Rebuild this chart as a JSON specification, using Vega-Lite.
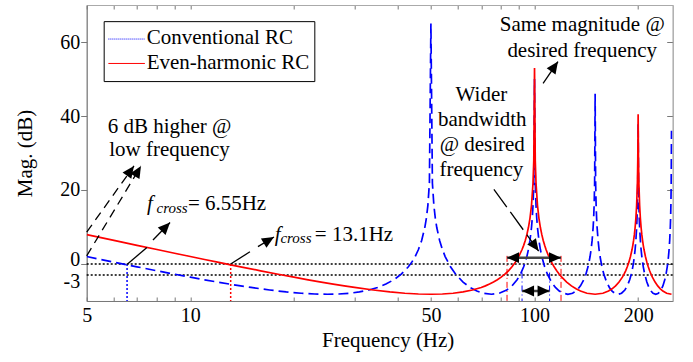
{
  "$schema": "https://vega.github.io/schema/vega-lite/v6.json",
  "width": 586,
  "height": 296,
  "autosize": {"type": "none"},
  "padding": {"left": 86.7, "top": 5, "right": 20, "bottom": 61},
  "background": "white",
  "config": {
    "font": "Liberation Serif",
    "view": {"stroke": "#aaaaaa"},
    "axis": {"domainColor": "#777777", "tickColor": "#777777", "labelColor": "black", "titleColor": "black", "labelFont": "Liberation Serif", "titleFont": "Liberation Serif", "labelFontSize": 20, "titleFontSize": 21, "titleFontWeight": "normal", "grid": false}
  },
  "datasets": {
    "curves": [
      {"s":"Conventional RC","f":5,"m":2.02},{"s":"Conventional RC","f":5.5,"m":1.22},{"s":"Conventional RC","f":6,"m":0.5},{"s":"Conventional RC","f":6.55,"m":-0.22},{"s":"Conventional RC","f":7,"m":-0.76},{"s":"Conventional RC","f":8,"m":-1.84},{"s":"Conventional RC","f":9,"m":-2.76},{"s":"Conventional RC","f":10,"m":-3.56},{"s":"Conventional RC","f":11,"m":-4.27},{"s":"Conventional RC","f":12,"m":-4.89},{"s":"Conventional RC","f":13,"m":-5.43},{"s":"Conventional RC","f":14,"m":-5.92},{"s":"Conventional RC","f":15,"m":-6.34},{"s":"Conventional RC","f":17,"m":-7.03},{"s":"Conventional RC","f":19,"m":-7.55},{"s":"Conventional RC","f":21,"m":-7.9},{"s":"Conventional RC","f":23,"m":-8.11},{"s":"Conventional RC","f":25,"m":-8.18},{"s":"Conventional RC","f":27,"m":-8.11},{"s":"Conventional RC","f":29,"m":-7.9},{"s":"Conventional RC","f":31,"m":-7.55},{"s":"Conventional RC","f":33,"m":-7.03},{"s":"Conventional RC","f":35,"m":-6.34},{"s":"Conventional RC","f":37,"m":-5.43},{"s":"Conventional RC","f":39,"m":-4.27},{"s":"Conventional RC","f":41,"m":-2.76},{"s":"Conventional RC","f":43,"m":-0.76},{"s":"Conventional RC","f":44,"m":0.5},{"s":"Conventional RC","f":45,"m":2.02},{"s":"Conventional RC","f":46,"m":3.91},{"s":"Conventional RC","f":47,"m":6.37},{"s":"Conventional RC","f":48,"m":9.86},{"s":"Conventional RC","f":48.5,"m":12.35},{"s":"Conventional RC","f":49,"m":15.86},{"s":"Conventional RC","f":49.5,"m":21.88},{"s":"Conventional RC","f":50,"m":65},{"s":"Conventional RC","f":50.5,"m":21.88},{"s":"Conventional RC","f":51,"m":15.86},{"s":"Conventional RC","f":51.5,"m":12.35},{"s":"Conventional RC","f":52,"m":9.86},{"s":"Conventional RC","f":53,"m":6.37},{"s":"Conventional RC","f":54,"m":3.91},{"s":"Conventional RC","f":55,"m":2.02},{"s":"Conventional RC","f":57,"m":-0.76},{"s":"Conventional RC","f":59,"m":-2.76},{"s":"Conventional RC","f":62,"m":-4.89},{"s":"Conventional RC","f":65,"m":-6.34},{"s":"Conventional RC","f":68,"m":-7.31},{"s":"Conventional RC","f":71,"m":-7.9},{"s":"Conventional RC","f":75,"m":-8.18},{"s":"Conventional RC","f":79,"m":-7.9},{"s":"Conventional RC","f":83,"m":-7.03},{"s":"Conventional RC","f":86,"m":-5.92},{"s":"Conventional RC","f":89,"m":-4.27},{"s":"Conventional RC","f":91,"m":-2.76},{"s":"Conventional RC","f":93,"m":-0.76},{"s":"Conventional RC","f":94,"m":0.5},{"s":"Conventional RC","f":95,"m":2.02},{"s":"Conventional RC","f":96,"m":3.91},{"s":"Conventional RC","f":97,"m":6.37},{"s":"Conventional RC","f":98,"m":9.86},{"s":"Conventional RC","f":98.5,"m":12.35},{"s":"Conventional RC","f":99,"m":15.86},{"s":"Conventional RC","f":99.5,"m":21.88},{"s":"Conventional RC","f":100,"m":50},{"s":"Conventional RC","f":100.5,"m":21.88},{"s":"Conventional RC","f":101,"m":15.86},{"s":"Conventional RC","f":101.5,"m":12.35},{"s":"Conventional RC","f":102,"m":9.86},{"s":"Conventional RC","f":103,"m":6.37},{"s":"Conventional RC","f":104,"m":3.91},{"s":"Conventional RC","f":105,"m":2.02},{"s":"Conventional RC","f":107,"m":-0.76},{"s":"Conventional RC","f":109,"m":-2.76},{"s":"Conventional RC","f":112,"m":-4.89},{"s":"Conventional RC","f":115,"m":-6.34},{"s":"Conventional RC","f":118,"m":-7.31},{"s":"Conventional RC","f":121,"m":-7.9},{"s":"Conventional RC","f":125,"m":-8.18},{"s":"Conventional RC","f":129,"m":-7.9},{"s":"Conventional RC","f":133,"m":-7.03},{"s":"Conventional RC","f":136,"m":-5.92},{"s":"Conventional RC","f":139,"m":-4.27},{"s":"Conventional RC","f":141,"m":-2.76},{"s":"Conventional RC","f":143,"m":-0.76},{"s":"Conventional RC","f":144,"m":0.5},{"s":"Conventional RC","f":145,"m":2.02},{"s":"Conventional RC","f":146,"m":3.91},{"s":"Conventional RC","f":147,"m":6.37},{"s":"Conventional RC","f":148,"m":9.86},{"s":"Conventional RC","f":148.5,"m":12.35},{"s":"Conventional RC","f":149,"m":15.86},{"s":"Conventional RC","f":149.5,"m":21.88},{"s":"Conventional RC","f":150,"m":46},{"s":"Conventional RC","f":150.5,"m":21.88},{"s":"Conventional RC","f":151,"m":15.86},{"s":"Conventional RC","f":151.5,"m":12.35},{"s":"Conventional RC","f":152,"m":9.86},{"s":"Conventional RC","f":153,"m":6.37},{"s":"Conventional RC","f":154,"m":3.91},{"s":"Conventional RC","f":155,"m":2.02},{"s":"Conventional RC","f":157,"m":-0.76},{"s":"Conventional RC","f":159,"m":-2.76},{"s":"Conventional RC","f":162,"m":-4.89},{"s":"Conventional RC","f":165,"m":-6.34},{"s":"Conventional RC","f":168,"m":-7.31},{"s":"Conventional RC","f":171,"m":-7.9},{"s":"Conventional RC","f":175,"m":-8.18},{"s":"Conventional RC","f":179,"m":-7.9},{"s":"Conventional RC","f":183,"m":-7.03},{"s":"Conventional RC","f":186,"m":-5.92},{"s":"Conventional RC","f":189,"m":-4.27},{"s":"Conventional RC","f":191,"m":-2.76},{"s":"Conventional RC","f":193,"m":-0.76},{"s":"Conventional RC","f":194,"m":0.5},{"s":"Conventional RC","f":195,"m":2.02},{"s":"Conventional RC","f":196,"m":3.91},{"s":"Conventional RC","f":197,"m":6.37},{"s":"Conventional RC","f":198,"m":9.86},{"s":"Conventional RC","f":198.5,"m":12.35},{"s":"Conventional RC","f":199,"m":15.86},{"s":"Conventional RC","f":199.5,"m":21.88},{"s":"Conventional RC","f":200,"m":38},{"s":"Conventional RC","f":200.5,"m":21.88},{"s":"Conventional RC","f":201,"m":15.86},{"s":"Conventional RC","f":201.5,"m":12.35},{"s":"Conventional RC","f":202,"m":9.86},{"s":"Conventional RC","f":203,"m":6.37},{"s":"Conventional RC","f":204,"m":3.91},{"s":"Conventional RC","f":205,"m":2.02},{"s":"Conventional RC","f":207,"m":-0.76},{"s":"Conventional RC","f":209,"m":-2.76},{"s":"Conventional RC","f":212,"m":-4.89},{"s":"Conventional RC","f":215,"m":-6.34},{"s":"Conventional RC","f":218,"m":-7.31},{"s":"Conventional RC","f":221,"m":-7.9},{"s":"Conventional RC","f":225,"m":-8.18},{"s":"Conventional RC","f":229,"m":-7.9},{"s":"Conventional RC","f":233,"m":-7.03},{"s":"Conventional RC","f":236,"m":-5.92},{"s":"Conventional RC","f":239,"m":-4.27},{"s":"Conventional RC","f":241,"m":-2.76},{"s":"Conventional RC","f":243,"m":-0.76},{"s":"Conventional RC","f":244,"m":0.5},{"s":"Conventional RC","f":245,"m":2.02},{"s":"Conventional RC","f":246,"m":3.91},{"s":"Conventional RC","f":247,"m":6.37},{"s":"Conventional RC","f":248,"m":9.86},{"s":"Conventional RC","f":248.5,"m":12.35},{"s":"Conventional RC","f":249,"m":15.86},{"s":"Conventional RC","f":249.5,"m":21.88},{"s":"Conventional RC","f":250,"m":36},
      {"s":"Even-harmonic RC","f":5,"m":7.93},{"s":"Even-harmonic RC","f":5.5,"m":7.11},{"s":"Even-harmonic RC","f":6,"m":6.37},{"s":"Even-harmonic RC","f":7,"m":5.04},{"s":"Even-harmonic RC","f":8,"m":3.91},{"s":"Even-harmonic RC","f":9,"m":2.91},{"s":"Even-harmonic RC","f":10,"m":2.02},{"s":"Even-harmonic RC","f":11,"m":1.22},{"s":"Even-harmonic RC","f":12,"m":0.5},{"s":"Even-harmonic RC","f":13.1,"m":-0.22},{"s":"Even-harmonic RC","f":14,"m":-0.76},{"s":"Even-harmonic RC","f":16,"m":-1.84},{"s":"Even-harmonic RC","f":18,"m":-2.76},{"s":"Even-harmonic RC","f":20,"m":-3.56},{"s":"Even-harmonic RC","f":22,"m":-4.27},{"s":"Even-harmonic RC","f":24,"m":-4.89},{"s":"Even-harmonic RC","f":26,"m":-5.43},{"s":"Even-harmonic RC","f":28,"m":-5.92},{"s":"Even-harmonic RC","f":30,"m":-6.34},{"s":"Even-harmonic RC","f":34,"m":-7.03},{"s":"Even-harmonic RC","f":38,"m":-7.55},{"s":"Even-harmonic RC","f":42,"m":-7.9},{"s":"Even-harmonic RC","f":46,"m":-8.11},{"s":"Even-harmonic RC","f":50,"m":-8.18},{"s":"Even-harmonic RC","f":54,"m":-8.11},{"s":"Even-harmonic RC","f":58,"m":-7.9},{"s":"Even-harmonic RC","f":62,"m":-7.55},{"s":"Even-harmonic RC","f":66,"m":-7.03},{"s":"Even-harmonic RC","f":70,"m":-6.34},{"s":"Even-harmonic RC","f":72,"m":-5.92},{"s":"Even-harmonic RC","f":74,"m":-5.43},{"s":"Even-harmonic RC","f":76,"m":-4.89},{"s":"Even-harmonic RC","f":78,"m":-4.27},{"s":"Even-harmonic RC","f":80,"m":-3.56},{"s":"Even-harmonic RC","f":82,"m":-2.76},{"s":"Even-harmonic RC","f":84,"m":-1.84},{"s":"Even-harmonic RC","f":86,"m":-0.76},{"s":"Even-harmonic RC","f":88,"m":0.5},{"s":"Even-harmonic RC","f":90,"m":2.02},{"s":"Even-harmonic RC","f":92,"m":3.91},{"s":"Even-harmonic RC","f":93,"m":5.04},{"s":"Even-harmonic RC","f":94,"m":6.37},{"s":"Even-harmonic RC","f":95,"m":7.93},{"s":"Even-harmonic RC","f":96,"m":9.86},{"s":"Even-harmonic RC","f":97,"m":12.35},{"s":"Even-harmonic RC","f":98,"m":15.86},{"s":"Even-harmonic RC","f":99,"m":21.88},{"s":"Even-harmonic RC","f":99.5,"m":27.9},{"s":"Even-harmonic RC","f":100,"m":53},{"s":"Even-harmonic RC","f":100.5,"m":27.9},{"s":"Even-harmonic RC","f":101,"m":21.88},{"s":"Even-harmonic RC","f":102,"m":15.86},{"s":"Even-harmonic RC","f":103,"m":12.35},{"s":"Even-harmonic RC","f":104,"m":9.86},{"s":"Even-harmonic RC","f":105,"m":7.93},{"s":"Even-harmonic RC","f":106,"m":6.37},{"s":"Even-harmonic RC","f":107,"m":5.04},{"s":"Even-harmonic RC","f":108,"m":3.91},{"s":"Even-harmonic RC","f":110,"m":2.02},{"s":"Even-harmonic RC","f":112,"m":0.5},{"s":"Even-harmonic RC","f":114,"m":-0.76},{"s":"Even-harmonic RC","f":116,"m":-1.84},{"s":"Even-harmonic RC","f":118,"m":-2.76},{"s":"Even-harmonic RC","f":120,"m":-3.56},{"s":"Even-harmonic RC","f":124,"m":-4.89},{"s":"Even-harmonic RC","f":128,"m":-5.92},{"s":"Even-harmonic RC","f":132,"m":-6.71},{"s":"Even-harmonic RC","f":136,"m":-7.31},{"s":"Even-harmonic RC","f":142,"m":-7.9},{"s":"Even-harmonic RC","f":150,"m":-8.18},{"s":"Even-harmonic RC","f":158,"m":-7.9},{"s":"Even-harmonic RC","f":164,"m":-7.31},{"s":"Even-harmonic RC","f":168,"m":-6.71},{"s":"Even-harmonic RC","f":172,"m":-5.92},{"s":"Even-harmonic RC","f":176,"m":-4.89},{"s":"Even-harmonic RC","f":180,"m":-3.56},{"s":"Even-harmonic RC","f":182,"m":-2.76},{"s":"Even-harmonic RC","f":184,"m":-1.84},{"s":"Even-harmonic RC","f":186,"m":-0.76},{"s":"Even-harmonic RC","f":188,"m":0.5},{"s":"Even-harmonic RC","f":190,"m":2.02},{"s":"Even-harmonic RC","f":192,"m":3.91},{"s":"Even-harmonic RC","f":193,"m":5.04},{"s":"Even-harmonic RC","f":194,"m":6.37},{"s":"Even-harmonic RC","f":195,"m":7.93},{"s":"Even-harmonic RC","f":196,"m":9.86},{"s":"Even-harmonic RC","f":197,"m":12.35},{"s":"Even-harmonic RC","f":198,"m":15.86},{"s":"Even-harmonic RC","f":199,"m":21.88},{"s":"Even-harmonic RC","f":199.5,"m":27.9},{"s":"Even-harmonic RC","f":200,"m":40.5},{"s":"Even-harmonic RC","f":200.5,"m":27.9},{"s":"Even-harmonic RC","f":201,"m":21.88},{"s":"Even-harmonic RC","f":202,"m":15.86},{"s":"Even-harmonic RC","f":203,"m":12.35},{"s":"Even-harmonic RC","f":204,"m":9.86},{"s":"Even-harmonic RC","f":205,"m":7.93},{"s":"Even-harmonic RC","f":206,"m":6.37},{"s":"Even-harmonic RC","f":207,"m":5.04},{"s":"Even-harmonic RC","f":208,"m":3.91},{"s":"Even-harmonic RC","f":210,"m":2.02},{"s":"Even-harmonic RC","f":212,"m":0.5},{"s":"Even-harmonic RC","f":214,"m":-0.76},{"s":"Even-harmonic RC","f":216,"m":-1.84},{"s":"Even-harmonic RC","f":218,"m":-2.76},{"s":"Even-harmonic RC","f":220,"m":-3.56},{"s":"Even-harmonic RC","f":224,"m":-4.89},{"s":"Even-harmonic RC","f":228,"m":-5.92},{"s":"Even-harmonic RC","f":232,"m":-6.71},{"s":"Even-harmonic RC","f":236,"m":-7.31},{"s":"Even-harmonic RC","f":242,"m":-7.9},{"s":"Even-harmonic RC","f":250,"m":-8.18}
    ],
    "vdotBlue": [{"f": 6.55, "m": 0, "m2": -10}],
    "vdotRed": [{"f": 13.1, "m": 0, "m2": -10}],
    "vddRed": [{"f": 83.2, "m": 2.2, "m2": -10}, {"f": 119.4, "m": 2.2, "m2": -10}],
    "vddBlue": [{"f": 92.0, "m": -2.3, "m2": -10}, {"f": 110.6, "m": -2.3, "m2": -10}],
    "hdot": [{"m": 0}, {"m": -3}],
    "dashLines": [{"f": 5.0, "m": 8.6, "f2": 6.86, "m2": 26.5}, {"f": 5.0, "m": 2.2, "f2": 7.19, "m2": 26.5}],
    "solidLines": [{"f": 6.57, "m": 0, "f2": 7.48, "m2": 4.46}, {"f": 7.79, "m": 6.5, "f2": 8.73, "m2": 11.2}, {"f": 13.1, "m": 0, "f2": 14.9, "m2": 3.3}, {"f": 15.72, "m": 4.7, "f2": 17.5, "m2": 7.3}, {"f": 105.9, "m": 48.8, "f2": 117.0, "m2": 54.7}],
    "longDash": [{"f": 76.2, "m": 20.2, "f2": 102.8, "m2": 3.5}],
    "bwBars": [{"f": 83.2, "m": 1.7, "f2": 119.4, "m2": 1.7}, {"f": 92.0, "m": -7.3, "f2": 110.6, "m2": -7.3}],
    "heads": [{"f": 6.86, "m": 26.5, "a": 36}, {"f": 7.19, "m": 26.5, "a": 31}, {"f": 8.73, "m": 11.2, "a": 44}, {"f": 17.5, "m": 7.3, "a": 59}, {"f": 117.0, "m": 54.7, "a": 35}, {"f": 102.8, "m": 3.5, "a": 144}, {"f": 83.2, "m": 1.7, "a": 270}, {"f": 119.4, "m": 1.7, "a": 90}, {"f": 92.0, "m": -7.3, "a": 270}, {"f": 110.6, "m": -7.3, "a": 90}],
    "labels": [{"f": 8.70, "m": 37.0, "t": "6 dB higher @"}, {"f": 8.70, "m": 30.8, "t": "low frequency"}, {"f": 70.1, "m": 45.8, "t": "Wider"}, {"f": 70.5, "m": 39.05, "t": "bandwidth"}, {"f": 70.5, "m": 32.2, "t": "@ desired"}, {"f": 70.1, "m": 25.4, "t": "frequency"}, {"f": 137.6, "m": 64.6, "t": "Same magnitude @"}, {"f": 137.6, "m": 57.7, "t": "desired frequency"}],
    "fsym": [{"f": 7.48, "m": 14.6, "t": "f"}, {"f": 17.6, "m": 6.3, "t": "f"}],
    "fsub": [{"f": 7.98, "m": 13.8, "t": "cross"}, {"f": 18.27, "m": 5.6, "t": "cross"}],
    "feq": [{"f": 9.84, "m": 14.6, "t": "= 6.55Hz"}, {"f": 23.0, "m": 6.3, "t": "= 13.1Hz"}],
    "legendBox": [{"f": 5.62, "f2": 23.0, "m": 65.5, "m2": 49.3}],
    "legendBlue": [{"f": 5.78, "f2": 7.38, "m": 60.8}],
    "legendRed": [{"f": 5.78, "f2": 7.38, "m": 54.2}],
    "legendText": [{"f": 7.47, "m": 61.0, "t": "Conventional RC"}, {"f": 7.47, "m": 54.3, "t": "Even-harmonic RC"}]
  },
  "resolve": {"axis": {"x": "independent", "y": "independent"}},
  "layer": [
    {
      "data": {"name": "vdotBlue"},
      "mark": {"type": "rule", "color": "#0000ff", "strokeDash": [2, 2], "strokeWidth": 1.5},
      "encoding": {
        "x": {"field": "f", "type": "quantitative", "scale": {"type": "log", "domain": [5, 252], "nice": false}, "axis": {"orient": "top", "values": [5,6,7,8,9,10,20,30,40,50,60,70,80,90,100,200], "labels": false, "tickSize": -4, "title": null, "domainColor": "#aaaaaa", "tickColor": "#777777"}},
        "y": {"field": "m", "type": "quantitative", "scale": {"domain": [-10, 70], "nice": false}, "axis": null},
        "y2": {"field": "m2"}
      }
    },
    {
      "data": {"name": "vdotRed"},
      "mark": {"type": "rule", "color": "#ff0000", "strokeDash": [2, 2], "strokeWidth": 1.5},
      "encoding": {
        "x": {"field": "f", "type": "quantitative", "scale": {"type": "log", "domain": [5, 252], "nice": false}, "axis": null},
        "y": {"field": "m", "type": "quantitative", "scale": {"domain": [-10, 70], "nice": false}, "axis": null},
        "y2": {"field": "m2"}
      }
    },
    {
      "data": {"name": "vddRed"},
      "mark": {"type": "rule", "color": "#ff0000", "strokeDash": [6, 3, 1, 3], "strokeWidth": 1},
      "encoding": {
        "x": {"field": "f", "type": "quantitative", "scale": {"type": "log", "domain": [5, 252], "nice": false}, "axis": null},
        "y": {"field": "m", "type": "quantitative", "scale": {"domain": [-10, 70], "nice": false}, "axis": null},
        "y2": {"field": "m2"}
      }
    },
    {
      "data": {"name": "vddBlue"},
      "mark": {"type": "rule", "color": "#0000ff", "strokeDash": [6, 3, 1, 3], "strokeWidth": 1},
      "encoding": {
        "x": {"field": "f", "type": "quantitative", "scale": {"type": "log", "domain": [5, 252], "nice": false}, "axis": null},
        "y": {"field": "m", "type": "quantitative", "scale": {"domain": [-10, 70], "nice": false}, "axis": null},
        "y2": {"field": "m2"}
      }
    },
    {
      "data": {"name": "hdot"},
      "mark": {"type": "rule", "color": "black", "strokeDash": [2, 2], "strokeWidth": 1.5},
      "encoding": {
        "y": {"field": "m", "type": "quantitative", "scale": {"domain": [-10, 70], "nice": false}, "axis": {"orient": "right", "values": [0, 20, 40, 60], "labels": false, "tickSize": -6, "title": null, "domainColor": "#aaaaaa", "tickColor": "#777777"}}
      }
    },
    {
      "data": {"name": "curves"},
      "transform": [{"filter": "datum.s == 'Conventional RC'"}],
      "mark": {"type": "line", "color": "#0000ff", "strokeWidth": 1.7, "strokeDash": [10, 5], "clip": true},
      "encoding": {
        "x": {"field": "f", "type": "quantitative", "scale": {"type": "log", "domain": [5, 252], "nice": false},
          "axis": {"orient": "bottom", "values": [5,6,7,8,9,10,20,30,40,50,60,70,80,90,100,200], "labelExpr": "(datum.value==5||datum.value==10||datum.value==50||datum.value==100||datum.value==200) ? ''+datum.value : ''", "tickSize": -4, "labelPadding": 9, "labelFlush": false, "labelOverlap": false, "title": "Frequency (Hz)", "titlePadding": 4, "titleX": 301}},
        "y": {"field": "m", "type": "quantitative", "scale": {"domain": [-10, 70], "nice": false},
          "axis": {"orient": "left", "values": [-3, 0, 20, 40, 60], "labelExpr": "''+datum.value", "tickSize": 6, "labelPadding": 1, "title": "Mag. (dB)", "titlePadding": 24,
            "tickOpacity": {"condition": {"test": "datum.value == -3", "value": 0}, "value": 1},
            "labelOffset": {"condition": [{"test": "datum.value == 0", "value": -4}, {"test": "datum.value == -3", "value": 6}], "value": 0}}}
      }
    },
    {
      "data": {"name": "curves"},
      "transform": [{"filter": "datum.s == 'Even-harmonic RC'"}],
      "mark": {"type": "line", "color": "#ff0000", "strokeWidth": 1.7, "clip": true},
      "encoding": {
        "x": {"field": "f", "type": "quantitative", "scale": {"type": "log", "domain": [5, 252], "nice": false}, "axis": null},
        "y": {"field": "m", "type": "quantitative", "scale": {"domain": [-10, 70], "nice": false}, "axis": null}
      }
    },
    {
      "data": {"name": "dashLines"},
      "mark": {"type": "rule", "color": "black", "strokeDash": [9, 6], "strokeWidth": 1.3},
      "encoding": {
        "x": {"field": "f", "type": "quantitative", "scale": {"type": "log", "domain": [5, 252], "nice": false}, "axis": null},
        "y": {"field": "m", "type": "quantitative", "scale": {"domain": [-10, 70], "nice": false}, "axis": null},
        "x2": {"field": "f2"}, "y2": {"field": "m2"}
      }
    },
    {
      "data": {"name": "solidLines"},
      "mark": {"type": "rule", "color": "black", "strokeWidth": 1.3},
      "encoding": {
        "x": {"field": "f", "type": "quantitative", "scale": {"type": "log", "domain": [5, 252], "nice": false}, "axis": null},
        "y": {"field": "m", "type": "quantitative", "scale": {"domain": [-10, 70], "nice": false}, "axis": null},
        "x2": {"field": "f2"}, "y2": {"field": "m2"}
      }
    },
    {
      "data": {"name": "longDash"},
      "mark": {"type": "rule", "color": "black", "strokeDash": [22, 6], "strokeWidth": 1.3},
      "encoding": {
        "x": {"field": "f", "type": "quantitative", "scale": {"type": "log", "domain": [5, 252], "nice": false}, "axis": null},
        "y": {"field": "m", "type": "quantitative", "scale": {"domain": [-10, 70], "nice": false}, "axis": null},
        "x2": {"field": "f2"}, "y2": {"field": "m2"}
      }
    },
    {
      "data": {"name": "bwBars"},
      "mark": {"type": "rule", "color": "#444444", "strokeWidth": 2.5},
      "encoding": {
        "x": {"field": "f", "type": "quantitative", "scale": {"type": "log", "domain": [5, 252], "nice": false}, "axis": null},
        "y": {"field": "m", "type": "quantitative", "scale": {"domain": [-10, 70], "nice": false}, "axis": null},
        "x2": {"field": "f2"}, "y2": {"field": "m2"}
      }
    },
    {
      "data": {"name": "heads"},
      "mark": {"type": "point", "shape": "M0,0L-0.9,2L0.9,2Z", "size": 144, "filled": true, "color": "black", "opacity": 1, "strokeWidth": 0},
      "encoding": {
        "x": {"field": "f", "type": "quantitative", "scale": {"type": "log", "domain": [5, 252], "nice": false}, "axis": null},
        "y": {"field": "m", "type": "quantitative", "scale": {"domain": [-10, 70], "nice": false}, "axis": null},
        "angle": {"field": "a", "type": "quantitative", "scale": null}
      }
    },
    {
      "data": {"name": "labels"},
      "mark": {"type": "text", "align": "center", "baseline": "middle", "font": "Liberation Serif", "fontSize": 21, "color": "black"},
      "encoding": {
        "x": {"field": "f", "type": "quantitative", "scale": {"type": "log", "domain": [5, 252], "nice": false}, "axis": null},
        "y": {"field": "m", "type": "quantitative", "scale": {"domain": [-10, 70], "nice": false}, "axis": null},
        "text": {"field": "t"}
      }
    },
    {
      "data": {"name": "fsym"},
      "mark": {"type": "text", "align": "left", "baseline": "alphabetic", "font": "Liberation Serif", "fontStyle": "italic", "fontSize": 21, "color": "black"},
      "encoding": {
        "x": {"field": "f", "type": "quantitative", "scale": {"type": "log", "domain": [5, 252], "nice": false}, "axis": null},
        "y": {"field": "m", "type": "quantitative", "scale": {"domain": [-10, 70], "nice": false}, "axis": null},
        "text": {"field": "t"}
      }
    },
    {
      "data": {"name": "fsub"},
      "mark": {"type": "text", "align": "left", "baseline": "alphabetic", "font": "Liberation Serif", "fontStyle": "italic", "fontSize": 15, "color": "black"},
      "encoding": {
        "x": {"field": "f", "type": "quantitative", "scale": {"type": "log", "domain": [5, 252], "nice": false}, "axis": null},
        "y": {"field": "m", "type": "quantitative", "scale": {"domain": [-10, 70], "nice": false}, "axis": null},
        "text": {"field": "t"}
      }
    },
    {
      "data": {"name": "feq"},
      "mark": {"type": "text", "align": "left", "baseline": "alphabetic", "font": "Liberation Serif", "fontSize": 21, "color": "black"},
      "encoding": {
        "x": {"field": "f", "type": "quantitative", "scale": {"type": "log", "domain": [5, 252], "nice": false}, "axis": null},
        "y": {"field": "m", "type": "quantitative", "scale": {"domain": [-10, 70], "nice": false}, "axis": null},
        "text": {"field": "t"}
      }
    },
    {
      "data": {"name": "legendBox"},
      "mark": {"type": "rect", "fill": "white", "stroke": "black", "strokeWidth": 1},
      "encoding": {
        "x": {"field": "f", "type": "quantitative", "scale": {"type": "log", "domain": [5, 252], "nice": false}, "axis": null},
        "x2": {"field": "f2"},
        "y": {"field": "m", "type": "quantitative", "scale": {"domain": [-10, 70], "nice": false}, "axis": null},
        "y2": {"field": "m2"}
      }
    },
    {
      "data": {"name": "legendBlue"},
      "mark": {"type": "rule", "color": "#0000ff", "strokeWidth": 1, "strokeDash": [1, 1]},
      "encoding": {
        "x": {"field": "f", "type": "quantitative", "scale": {"type": "log", "domain": [5, 252], "nice": false}, "axis": null},
        "x2": {"field": "f2"},
        "y": {"field": "m", "type": "quantitative", "scale": {"domain": [-10, 70], "nice": false}, "axis": null}
      }
    },
    {
      "data": {"name": "legendRed"},
      "mark": {"type": "rule", "color": "#ff0000", "strokeWidth": 1},
      "encoding": {
        "x": {"field": "f", "type": "quantitative", "scale": {"type": "log", "domain": [5, 252], "nice": false}, "axis": null},
        "x2": {"field": "f2"},
        "y": {"field": "m", "type": "quantitative", "scale": {"domain": [-10, 70], "nice": false}, "axis": null}
      }
    },
    {
      "data": {"name": "legendText"},
      "mark": {"type": "text", "align": "left", "baseline": "middle", "font": "Liberation Serif", "fontSize": 21, "color": "black"},
      "encoding": {
        "x": {"field": "f", "type": "quantitative", "scale": {"type": "log", "domain": [5, 252], "nice": false}, "axis": null},
        "y": {"field": "m", "type": "quantitative", "scale": {"domain": [-10, 70], "nice": false}, "axis": null},
        "text": {"field": "t"}
      }
    }
  ]
}
